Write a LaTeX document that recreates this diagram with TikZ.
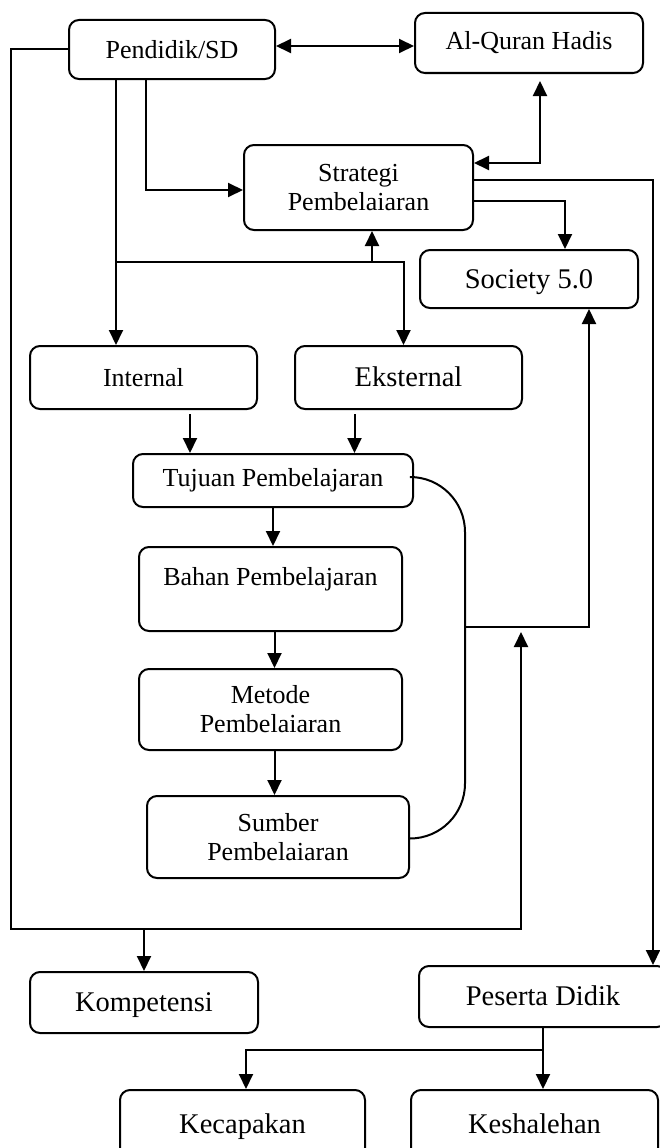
\documentclass[tikz,border=0pt]{standalone}
\usepackage{fontspec}
\setmainfont{Liberation Serif}
\usetikzlibrary{positioning, arrows.meta}

\begin{document}
\begin{tikzpicture}[x=1pt, y=-1pt, every node/.style={font=\fontsize{26}{29}\selectfont},
  box/.style={rectangle, rounded corners=10pt, draw, line width=2pt, align=center, inner sep=2pt},
  big/.style={font=\fontsize{28.5}{32}\selectfont, text height=20pt, text depth=2pt},
  arrow/.style={-{Triangle[length=15pt, width=14pt]}, line width=2pt},
  twoway/.style={{Triangle[length=15pt, width=14pt]}-{Triangle[length=15pt, width=14pt]}, line width=2pt},
  link/.style={line width=2pt}
]
    \useasboundingbox (0,0) rectangle (660,1148);

    \node[box, minimum width=206pt, minimum height=59pt] (ped) at (172,49.5) {Pendidik/SD};
    \node[box, minimum width=228pt, minimum height=60pt] (alq) at (529,43) {Al-Quran Hadis};
    \node[box, minimum width=229pt, minimum height=85pt] (strat) at (358.5,187.5) {Strategi\\Pembelaiaran};
    \node[box, big, minimum width=218pt, minimum height=58pt] (soc) at (529,279) {Society 5.0};
    \node[box, minimum width=227pt, minimum height=63pt] (int) at (143.5,377.5) {Internal};
    \node[box, big, minimum width=227pt, minimum height=63pt, right=36pt of int] (eks) {Eksternal};
    \node[box, minimum width=280pt, minimum height=53pt] (tuj) at (273,480.5) {Tujuan Pembelajaran};
    \node[box, minimum width=263pt, minimum height=84pt] (bahan) at (270.5,589) {\smash{\raisebox{4pt}{Bahan Pembelajaran}}};
    \node[box, minimum width=263pt, minimum height=81pt] (metode) at (270.5,709.5) {Metode\\Pembelaiaran};
    \node[box, minimum width=262pt, minimum height=82pt] (sumber) at (278,837) {Sumber\\Pembelaiaran};
    \node[box, big, minimum width=228pt, minimum height=61pt] (komp) at (144,1002.5) {Kompetensi};
    \node[box, big, minimum width=248pt, minimum height=61pt] (peserta) at (543,996.5) {Peserta Didik};
    \node[box, big, minimum width=245pt, minimum height=68pt] (kecap) at (242.5,1124) {Kecapakan};
    \node[box, big, minimum width=247pt, minimum height=68pt, right=44pt of kecap] (kesh) {Keshalehan};

    \coordinate (botL) at (11,929);
    \coordinate (botR) at (521,929);
    \coordinate (split) at (116,262);
    \coordinate (stup) at ([xshift=13.5pt]strat.south);
    \coordinate (brk) at (465,627);
    \coordinate (fork) at (543,1050);

    \draw[twoway] ([yshift=3.5pt]ped.east) -- ([yshift=3.5pt]ped.east -| alq.west);
    \draw[arrow] (ped.west) -| (botL) -- (botR) -- (botR |- bahan.south);
    \draw[arrow] (botL -| komp.north) -- (komp.north);
    \draw[arrow] ([xshift=-26pt]ped.south) |- ([yshift=-2.5pt]strat.west);
    \draw[arrow] ([xshift=-56pt]ped.south) -- (int.north -| split);
    \draw[arrow] (split) -| ([xshift=-5pt]eks.north);
    \draw[arrow] (split -| stup) -- (stup);
    \draw[twoway, shorten <=7pt] ([xshift=11pt]alq.south) |- ([yshift=24.5pt]strat.east);
    \draw[arrow] ([yshift=7.5pt]strat.east) -| ([xshift=110pt]peserta.north);
    \draw[arrow] ([yshift=-13.5pt]strat.east) -| ([xshift=36pt]soc.north);
    \draw[arrow, shorten <=4pt] ([xshift=46.5pt]int.south) -- ([xshift=46.5pt]int.south |- tuj.north);
    \draw[arrow, shorten <=4pt] ([xshift=-54pt]eks.south) -- ([xshift=-54pt]eks.south |- tuj.north);
    \draw[arrow] (tuj.south) -- (tuj.south |- bahan.north);
    \draw[arrow] ([xshift=4pt]bahan.south) -- ([xshift=4pt]metode.north);
    \draw[arrow] ([xshift=4pt]metode.south) -- ([xshift=4pt]metode.south |- sumber.north);
    \draw[link, rounded corners=55pt] ([yshift=3.5pt]tuj.east) -| (brk) |- ([yshift=-1.5pt]sumber.east);
    \draw[arrow] (brk) -| ([xshift=60pt]soc.south);
    \draw[arrow] (peserta.south) -- (peserta.south |- kesh.north);
    \draw[arrow] (fork) -| ([xshift=3.5pt]kecap.north);
\end{tikzpicture}
\end{document}
